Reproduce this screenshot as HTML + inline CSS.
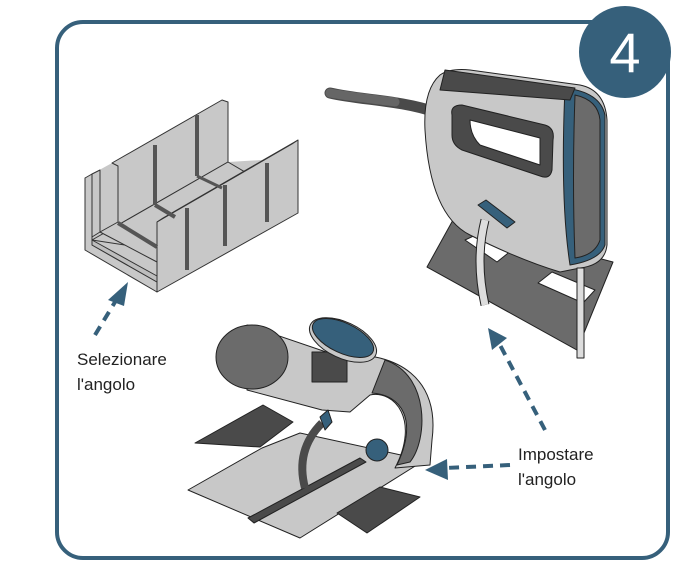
<!DOCTYPE html>
<html><head><meta charset="utf-8"><style>
html,body{margin:0;padding:0;background:#fff;width:693px;height:583px;overflow:hidden}
svg{display:block}
text{font-family:"Liberation Sans",sans-serif;fill:#222}
</style></head><body>
<svg width="693" height="583" viewBox="0 0 693 583" xmlns="http://www.w3.org/2000/svg">
<rect x="57" y="22" width="611" height="536" rx="26" fill="#fff" stroke="#36607b" stroke-width="4"/>
<circle cx="625" cy="52" r="46" fill="#36607b"/>
<text x="625" y="72" font-size="56" text-anchor="middle" style="fill:#fff">4</text>

<!-- miter box -->
<g stroke="#333" stroke-width="1" stroke-linejoin="round" fill="#c8c8c8">
<polygon points="85,178 92,174 112,163 222,100 228,102 228,162 262,160 298,140 298,213 157,292 85,250" stroke="none"/>
<polygon points="112,163 222,100 228,102 228,162 118,225 118,166"/>
<polygon points="92,240 228,162 262,182 157,250"/>
<polygon points="92,174 100,170 100,232 92,237"/>
<polygon points="100,232 118,222 157,247 157,262"/>
<polygon points="85,178 92,174 92,245 157,282 157,292 85,250"/>
<polygon points="92,240 157,276 157,282 92,245" fill="#bdbdbd"/>
<polygon points="157,222 163,218 298,140 298,213 157,292"/>
<polyline points="157,222 292,144 298,140" fill="none"/>
<line x1="118" y1="223" x2="157" y2="247" stroke="#555" stroke-width="4"/>
<line x1="155" y1="145" x2="155" y2="205" stroke="#555" stroke-width="4"/>
<line x1="197" y1="115" x2="197" y2="176" stroke="#555" stroke-width="4"/>
<line x1="187" y1="208" x2="187" y2="270" stroke="#555" stroke-width="4"/>
<line x1="225" y1="185" x2="225" y2="246" stroke="#555" stroke-width="4"/>
<line x1="267" y1="163" x2="267" y2="222" stroke="#555" stroke-width="4"/>
<line x1="155" y1="205" x2="175" y2="217" stroke="#555" stroke-width="4"/>
<line x1="197" y1="176" x2="222" y2="188" stroke="#555" stroke-width="3"/>
</g>

<!-- jigsaw -->
<g stroke="#222" stroke-width="1" stroke-linejoin="round">
<path d="M330,93 C360,100 400,100 435,112" stroke="#4a4a4a" stroke-width="11" fill="none" stroke-linecap="round"/>
<path d="M330,93 C345,96 380,100 395,102" stroke="#666" stroke-width="9" fill="none" stroke-linecap="round"/>
<polygon points="427,267 453,220 613,262 577,350" fill="#6b6b6b"/>
<polygon points="465,240 480,233 512,250 497,262" fill="#fff"/>
<polygon points="538,283 552,272 595,290 583,303" fill="#fff"/>
<path d="M440,75 Q450,68 470,70 L580,85 Q605,90 607,120 L607,245 Q605,265 580,268 L560,272 Q520,260 470,235 Q430,215 425,130 Q423,90 440,75 Z" fill="#c8c8c8"/>
<path d="M565,88 Q600,92 605,115 L605,245 Q600,260 570,265 Q560,200 565,88 Z" fill="#36607b"/>
<path d="M575,95 Q598,100 600,120 L600,240 Q595,255 575,258 Q572,180 575,95 Z" fill="#6b6b6b"/>
<path d="M445,70 L575,88 L570,100 L440,90 Z" fill="#4a4a4a"/>
<path d="M452,115 Q450,105 462,105 L545,125 Q555,128 553,140 L552,170 Q550,180 540,176 L462,150 Q452,145 452,135 Z" fill="#4a4a4a"/>
<path d="M470,120 L540,138 L540,165 L480,145 Q470,135 470,120 Z" fill="#fff"/>
<path d="M485,220 Q475,260 485,305" stroke="#222" stroke-width="9" fill="none"/>
<path d="M485,220 Q475,260 485,305" stroke="#ddd" stroke-width="7" fill="none"/>
<polygon points="478,205 486,200 515,222 507,228" fill="#36607b"/>
<rect x="577" y="268" width="7" height="90" fill="#ddd"/>
</g>

<!-- bottom tool -->
<g stroke="#222" stroke-width="1" stroke-linejoin="round">
<polygon points="195,443 263,405 293,422 260,447" fill="#4a4a4a"/>
<polygon points="188,490 262,448 300,433 410,457 420,463 300,538" fill="#c8c8c8"/>
<polygon points="337,513 380,487 420,497 367,533" fill="#4a4a4a"/>
<polygon points="248,518 360,458 366,462 254,523" fill="#4a4a4a"/>
<path d="M247,325 L335,355 C400,350 440,380 432,440 L430,465 L395,468 C420,420 395,390 370,395 L350,412 L322,410 L247,390 Z" fill="#c8c8c8"/>
<path d="M385,360 C430,375 428,440 410,462 L397,465 C418,420 402,395 372,393 Z" fill="#6b6b6b"/>
<ellipse cx="252" cy="357" rx="36" ry="32" fill="#6b6b6b"/>
<rect x="312" y="352" width="35" height="30" fill="#4a4a4a"/>
<ellipse cx="343" cy="340" rx="36" ry="18" transform="rotate(25 343 340)" fill="#c8c8c8"/>
<ellipse cx="343" cy="338" rx="33" ry="15" transform="rotate(25 343 338)" fill="#36607b"/>
<path d="M322,423 Q295,450 305,488" stroke="#4a4a4a" stroke-width="8" fill="none"/>
<circle cx="377" cy="450" r="11" fill="#36607b"/>
<polygon points="320,417 328,410 332,422 325,430" fill="#36607b"/>
</g>

<!-- arrows -->
<g fill="#36607b" stroke="#36607b">
<line x1="95" y1="335" x2="115" y2="302" stroke-width="4" stroke-dasharray="10,7"/>
<polygon points="108,300 128,282 124,306" stroke="none"/>
<line x1="545" y1="430" x2="500" y2="345" stroke-width="4" stroke-dasharray="10,7"/>
<polygon points="488,328 507,338 492,350" stroke="none"/>
<line x1="510" y1="465" x2="445" y2="468" stroke-width="4" stroke-dasharray="10,7"/>
<polygon points="425,470 447,459 448,480" stroke="none"/>
</g>

<text x="77" y="365" font-size="17">Selezionare</text>
<text x="77" y="390" font-size="17">l'angolo</text>
<text x="518" y="460" font-size="17">Impostare</text>
<text x="518" y="485" font-size="17">l'angolo</text>
</svg>
</body></html>
